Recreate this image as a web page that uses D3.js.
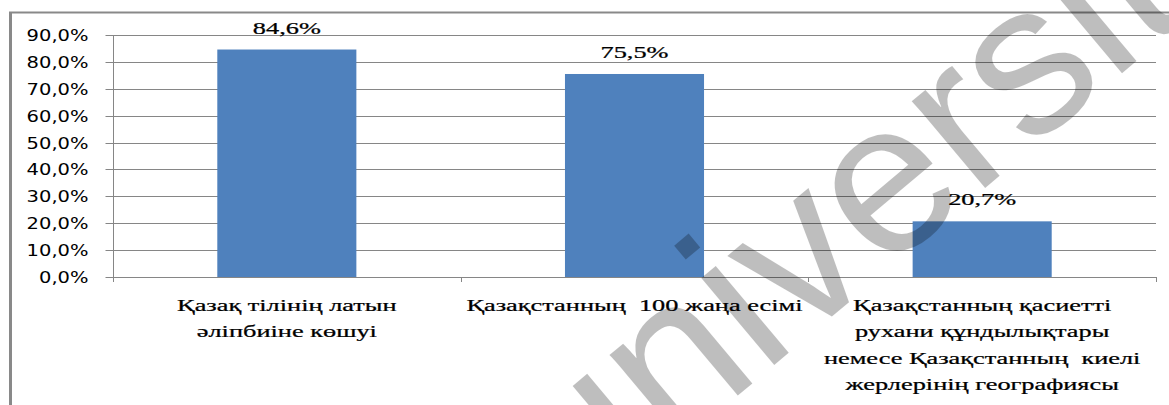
<!DOCTYPE html>
<html>
<head>
<meta charset="utf-8">
<script src="https://cdn.jsdelivr.net/npm/d3@7"></script>
<style>
  html, body { margin: 0; padding: 0; background: #fff; }
  svg { display: block; }
</style>
</head>
<body>
<div id="chart"></div>
<script>
const categories = [
  ["Қазақ тілінің латын", "әліпбиіне көшуі"],
  ["Қазақстанның  100 жаңа есімі"],
  ["Қазақстанның қасиетті", "рухани құндылықтары", "немесе Қазақстанның  киелі", "жерлерінің географиясы"]
];
const values = [0.846, 0.755, 0.207];
const yTicks = [0, 0.1, 0.2, 0.3, 0.4, 0.5, 0.6, 0.7, 0.8, 0.9];

const W = 1169, H = 405;
const margin = { top: 35, right: 13, bottom: 128, left: 113 };
const width = W - margin.left - margin.right;
const height = H - margin.top - margin.bottom;
const serifFont = "Liberation Serif";
const sansFont = "DejaVu Sans";
const textStretch = 1.55; // the source picture is stretched sideways
const labelStretch = 1.3;

const kz = d3.formatLocale({ decimal: ",", thousands: " ", grouping: [3], currency: ["", ""] });
const fmtPct = kz.format(".1%");

const root = d3.select("#chart")
  .append("svg")
  .attr("width", W)
  .attr("height", H);

// chart frame (only the left and top edges show)
root.append("line")
  .attr("x1", 10.5).attr("x2", 10.5).attr("y1", 12).attr("y2", H)
  .attr("stroke", "#898989").attr("stroke-width", 3);
root.append("line")
  .attr("x1", 9).attr("x2", W).attr("y1", 12.5).attr("y2", 12.5)
  .attr("stroke", "#898989").attr("stroke-width", 2);

const svg = root.append("g")
  .attr("transform", `translate(${margin.left},${margin.top})`);

const x = d3.scaleBand()
  .domain(d3.range(categories.length))
  .range([0, width])
  .paddingInner(0.6)
  .paddingOuter(0.3);

const y = d3.scaleLinear()
  .domain([0, 0.9])
  .range([height, 0]);

// gridlines
svg.append("g")
  .selectAll("line")
  .data(yTicks)
  .join("line")
  .attr("x1", 0)
  .attr("x2", width)
  .attr("y1", d => Math.round(y(d)) + 0.5)
  .attr("y2", d => Math.round(y(d)) + 0.5)
  .attr("stroke", "#868686");

// y axis
const yAxis = svg.append("g")
  .call(d3.axisLeft(y).tickValues(yTicks).tickSize(8).tickFormat(fmtPct));
yAxis.select(".domain").remove();
yAxis.selectAll(".tick line").attr("stroke", "#868686");
yAxis.selectAll(".tick")
  .attr("transform", d => `translate(0.5,${Math.round(y(d)) + 0.5})`);
yAxis.selectAll(".tick text")
  .attr("x", 0)
  .attr("dy", "0.35em")
  .attr("fill", "#000")
  .attr("font-family", sansFont)
  .attr("font-size", 15)
  .attr("text-anchor", "end")
  .attr("transform", `translate(-25,0) scale(${labelStretch},1)`);

svg.append("line")
  .attr("x1", 0.5).attr("x2", 0.5)
  .attr("y1", y(0.9)).attr("y2", height + 5)
  .attr("stroke", "#868686");

// category ticks at band edges
const edges = d3.range(categories.length + 1).map(i => i * x.step());
svg.append("g")
  .selectAll("line")
  .data(edges)
  .join("line")
  .attr("x1", d => Math.round(d) + 0.5)
  .attr("x2", d => Math.round(d) + 0.5)
  .attr("y1", height)
  .attr("y2", height + 5)
  .attr("stroke", "#868686");

// bars
svg.append("g")
  .selectAll("rect")
  .data(values)
  .join("rect")
  .attr("x", (d, i) => x(i))
  .attr("y", d => y(d))
  .attr("width", x.bandwidth())
  .attr("height", d => height - y(d))
  .attr("fill", "#4f81bd");

// value labels
svg.append("g")
  .selectAll("text")
  .data(values)
  .join("text")
  .attr("font-family", serifFont)
  .attr("font-size", 17)
  .attr("stroke", "#000")
  .attr("stroke-width", 0.25)
  .attr("text-anchor", "middle")
  .attr("transform", (d, i) => `translate(${x(i) + x.bandwidth() / 2},${y(d) - 16}) scale(${textStretch},1)`)
  .text(d => fmtPct(d));

// category labels
const catLabels = svg.append("g")
  .selectAll("text")
  .data(categories)
  .join("text")
  .attr("font-family", serifFont)
  .attr("font-size", 17)
  .attr("stroke", "#000")
  .attr("stroke-width", 0.25)
  .attr("text-anchor", "middle")
  .style("white-space", "pre")
  .attr("transform", (d, i) => `translate(${x(i) + x.bandwidth() / 2},${height + 34}) scale(${textStretch},1)`);

catLabels.selectAll("tspan")
  .data(d => d)
  .join("tspan")
  .attr("x", 0)
  .attr("y", (d, j) => j * 26.3)
  .text(d => d);

// watermark
root.append("text")
  .attr("font-family", "Liberation Sans")
  .attr("font-size", 215)
  .attr("fill", "#000")
  .attr("opacity", 0.25)
  .attr("transform", "translate(580,528) rotate(-40)")
  .text("universitet");
</script>
</body>
</html>
